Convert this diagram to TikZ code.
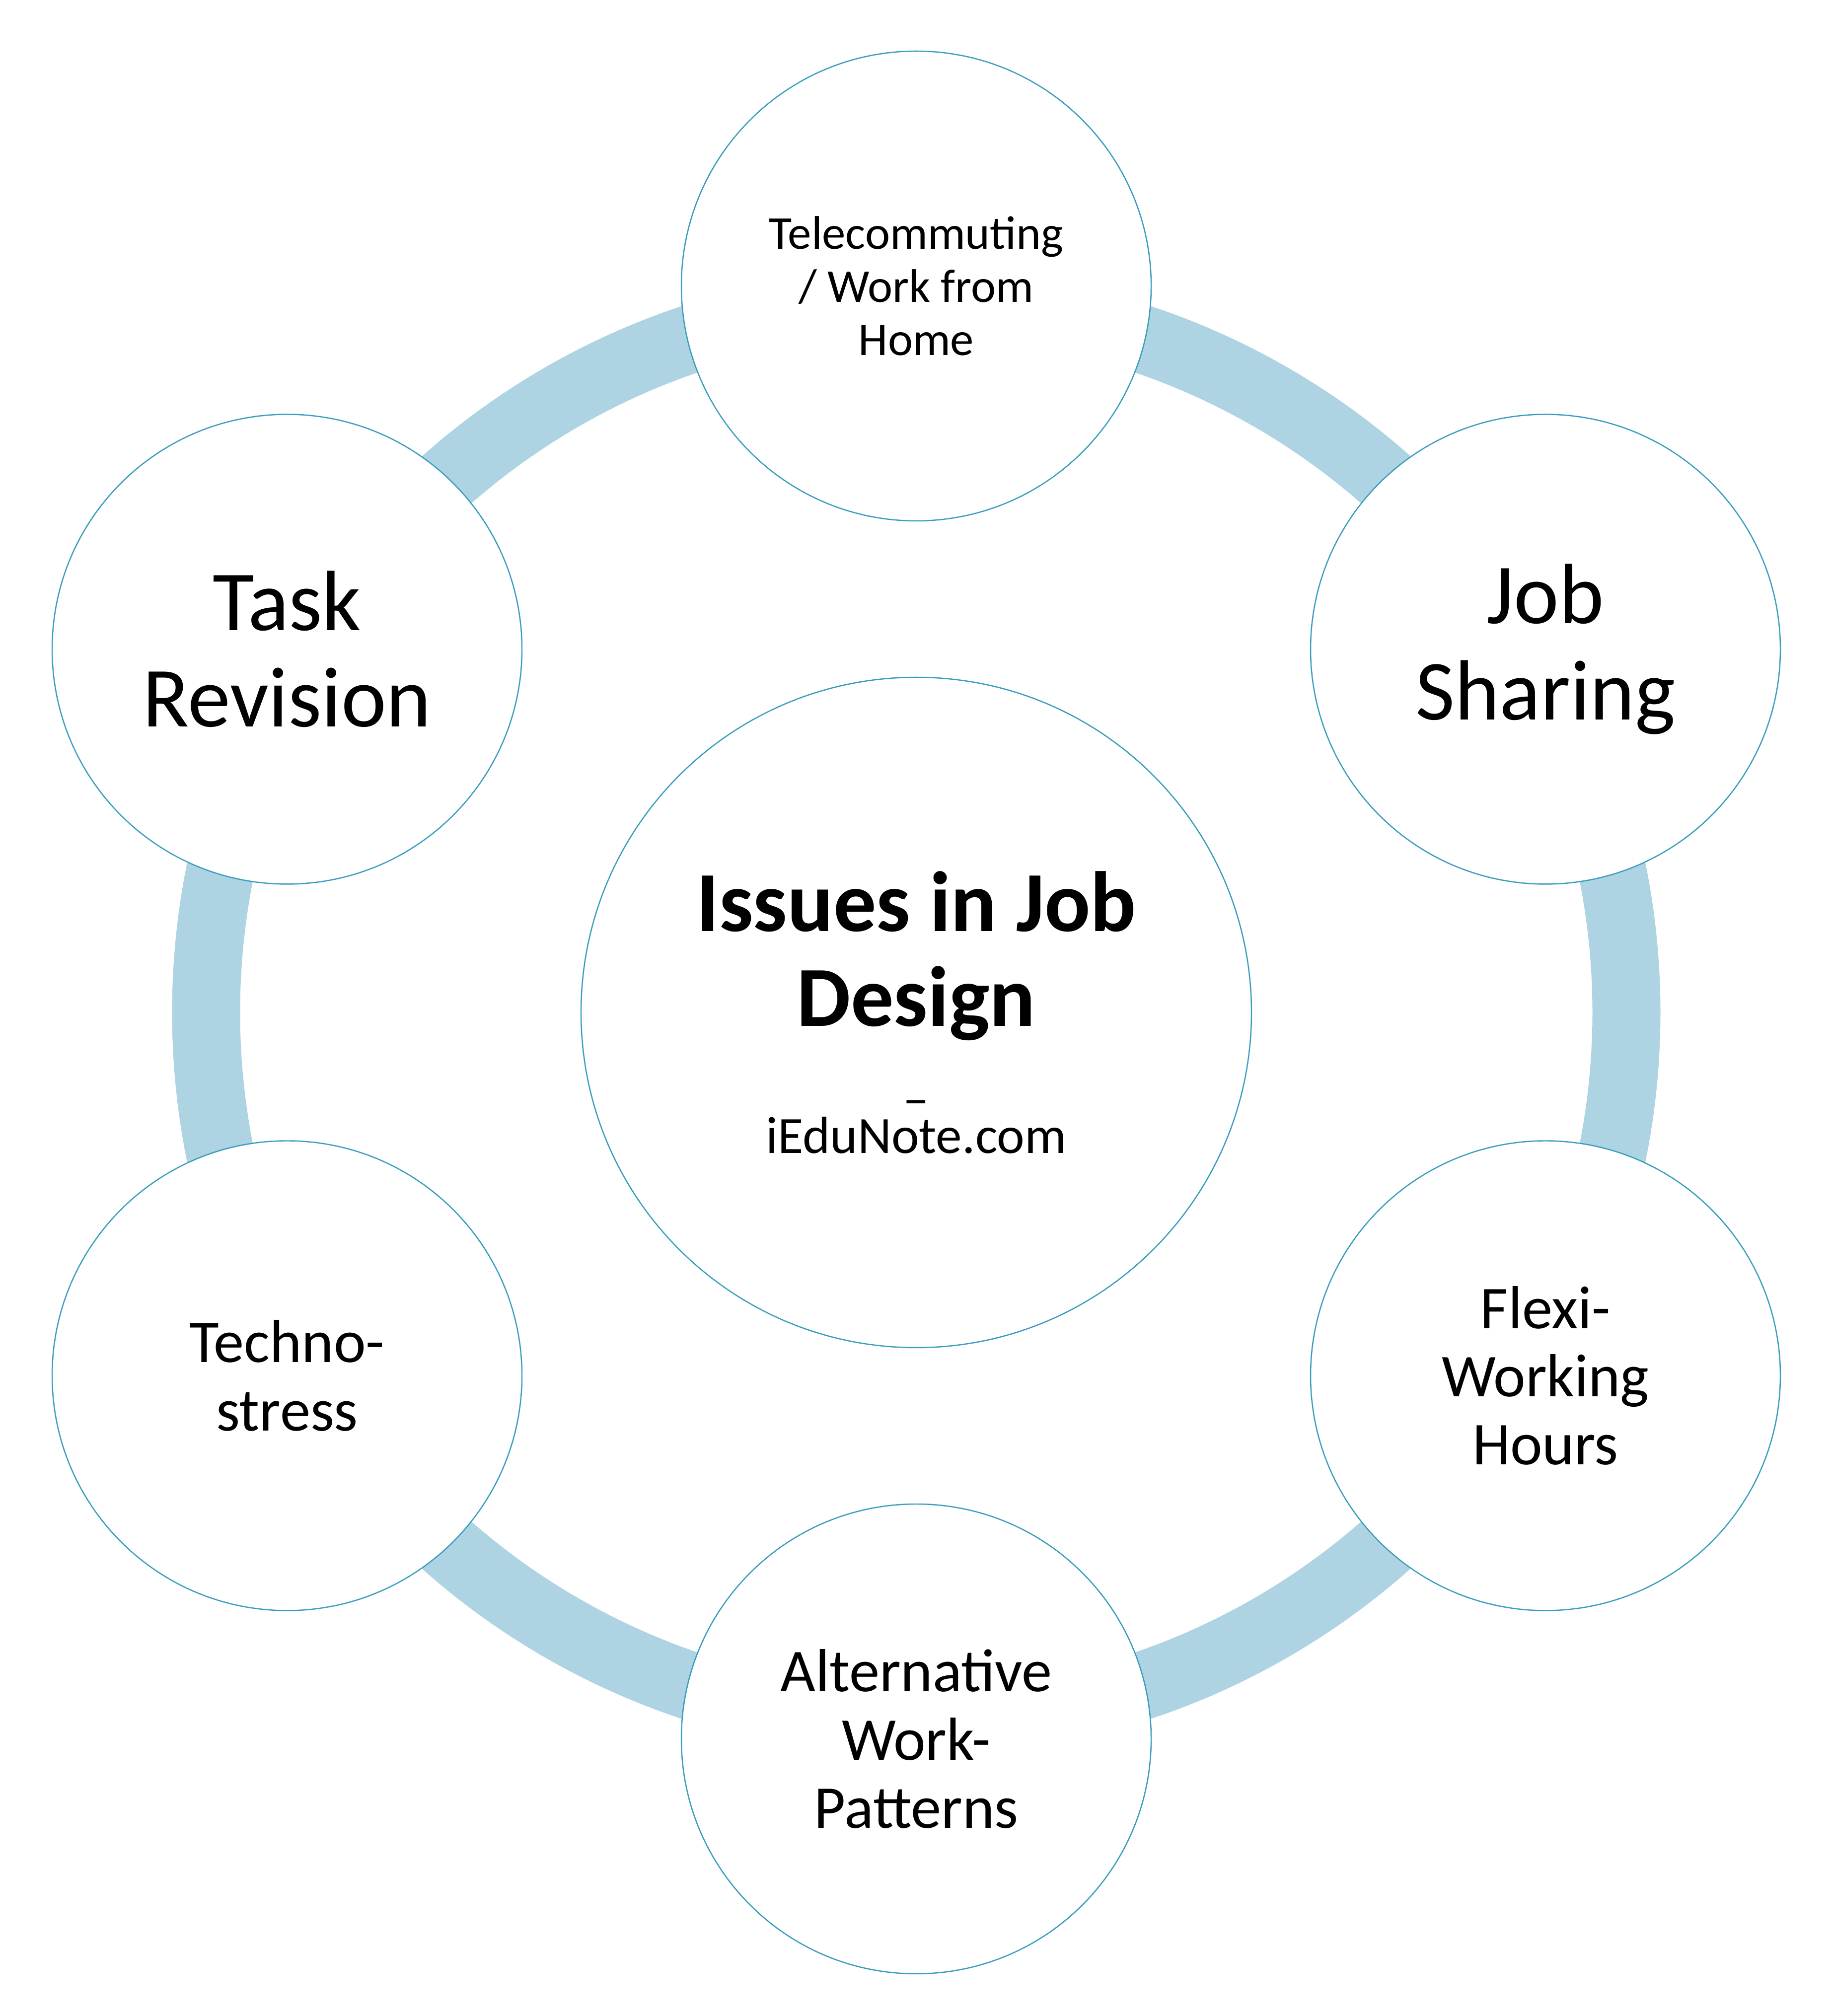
\documentclass[tikz,border=0pt]{standalone}
\usepackage{fontspec}
\setmainfont{Carlito}
\definecolor{ringblue}{RGB}{174,212,227}
\definecolor{rimteal}{RGB}{58,157,190}
\tikzset{
  bubble/.style={circle, draw=rimteal, line width=0.7pt, fill=white, inner sep=0pt, minimum size=9.46cm, align=center},
  hubble/.style={bubble, minimum size=13.5cm},
  bigtext/.style={font=\fontsize{49}{55}\selectfont},
  midtext/.style={font=\fontsize{34.85}{39.1}\selectfont},
  smalltext/.style={font=\fontsize{27}{30.4}\selectfont},
  band/.style={draw=ringblue, line width=1.37cm}
}

\begin{document}
\begin{tikzpicture}
  \useasboundingbox (0,0) rectangle (36.91,40.60);
  % the ring behind the bubbles
  \coordinate (mid) at (18.45,20.21);
  \draw[band] (mid) circle (14.3);
  % centre
  \node (hub) at (mid) [hubble, font=\fontsize{49}{54.3}\selectfont] {\textbf{Issues in Job}\\\textbf{Design}\\[-2.4pt]{\fontsize{30}{34}\selectfont –}\\[-33.4pt]{\fontsize{30}{34}\selectfont iEduNote.com}};
  % bubbles round the ring
  \node (tele) at (18.45,34.84) [bubble, smalltext] {Telecommuting\\/ Work from\\Home};
  \node (share) at (31.12,27.525) [bubble, bigtext] {Job\\Sharing};
  \node (flexi) at (31.12,12.895) [bubble, midtext] {Flexi-\\Working\\Hours};
  \node (alt) at (18.45,5.58) [bubble, midtext] {Alternative\\Work-\\Patterns};
  \node (techno) at (5.78,12.895) [bubble, midtext] {Techno-\\stress};
  \node (task) at (5.78,27.525) [bubble, bigtext] {Task\\Revision};
\end{tikzpicture}
\end{document}
